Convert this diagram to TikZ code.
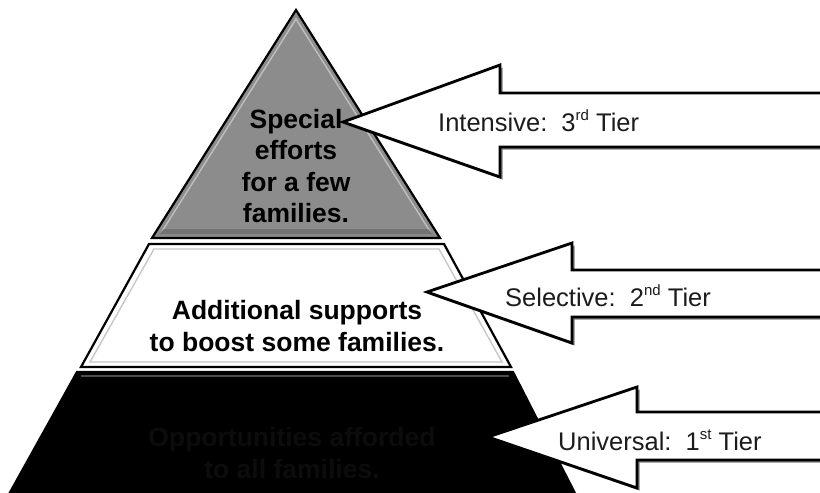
\documentclass[tikz,border=0pt]{standalone}
\usepackage{fontspec}
\setmainfont{Liberation Sans}
\usetikzlibrary{shadows}
\definecolor{tiergray}{HTML}{8C8C8C}
\definecolor{arrowtxt}{HTML}{1C1C1C}
\definecolor{hiddentxt}{HTML}{0C0C0C}
\newcommand{\tiersup}[1]{\raisebox{0.42em}{\fontsize{15}{15}\selectfont #1}}
\begin{document}
\begin{tikzpicture}[x=1pt,y=-1pt,
  layer/.style={draw=black, line width=2.2pt, line join=miter},
  innerline/.style={line width=1.4pt, line join=miter},
  tierarrow/.style={draw=black, fill=white, line width=2.8pt, line join=miter,
    drop shadow={shadow xshift=2.5pt, shadow yshift=-2.5pt, opacity=0.5, fill=black}},
  layertext/.style={font=\fontsize{26.5}{31.5}\selectfont\bfseries, align=center, inner sep=0pt},
  arrowtext/.style={font=\fontsize{25.5}{28}\selectfont, text=arrowtxt, anchor=west, inner sep=0pt}]
\useasboundingbox (0,0) rectangle (820,493);
\clip (0,0) rectangle (820,493);

% pyramid layers
\fill[tiergray] (296,10) -- (440,238) -- (152,238) -- cycle;
\draw[innerline, draw=black!25] (296,19) -- (431,233) -- (161,233) -- cycle;
\fill[black!55] (164,229) -- (428,229) -- (433,234) -- (159,234) -- cycle;
\draw[layer] (296,10) -- (440,238) -- (152,238) -- cycle;

\fill[white] (149,244) -- (444,244) -- (511,367) -- (81,367) -- cycle;
\draw[innerline, draw=black!22] (154,249) -- (439,249) -- (502,362) -- (90,362) -- cycle;
\draw[layer] (149,244) -- (444,244) -- (511,367) -- (81,367) -- cycle;

\fill[black] (77,372) -- (513,372) -- (581,505) -- (3,505) -- cycle;
\draw[innerline, draw=black!70] (81,376) -- (509,376);
\draw[layer] (77,372) -- (513,372) -- (581,505) -- (3,505) -- cycle;

% layer texts
\node[layertext] (t3) at (296,166) {Special\\efforts\\for a few\\families.};
\node[layertext] (t2) at (297,326) {Additional supports\\to boost some families.};
\node[layertext, text=hiddentxt] (t1) at (292,453) {Opportunities afforded\\to all families.};

% tier arrows
\draw[tierarrow] (343,122) -- (500,65) -- (500,93) -- (830,93) -- (830,147) -- (500,147) -- (500,177) -- cycle;
\draw[tierarrow] (427,292) -- (572,243) -- (572,270) -- (830,270) -- (830,317) -- (572,317) -- (572,343) -- cycle;
\draw[tierarrow] (488,437) -- (637,387) -- (637,412) -- (830,412) -- (830,460) -- (637,460) -- (637,488) -- cycle;

\node[arrowtext] (a3) at (438,121) {Intensive:\ \ 3\tiersup{rd} Tier};
\node[arrowtext] (a2) at (505,296) {Selective:\ \ 2\tiersup{nd} Tier};
\node[arrowtext] (a1) at (558,440) {Universal:\ \ 1\tiersup{st} Tier};
\end{tikzpicture}
\end{document}
